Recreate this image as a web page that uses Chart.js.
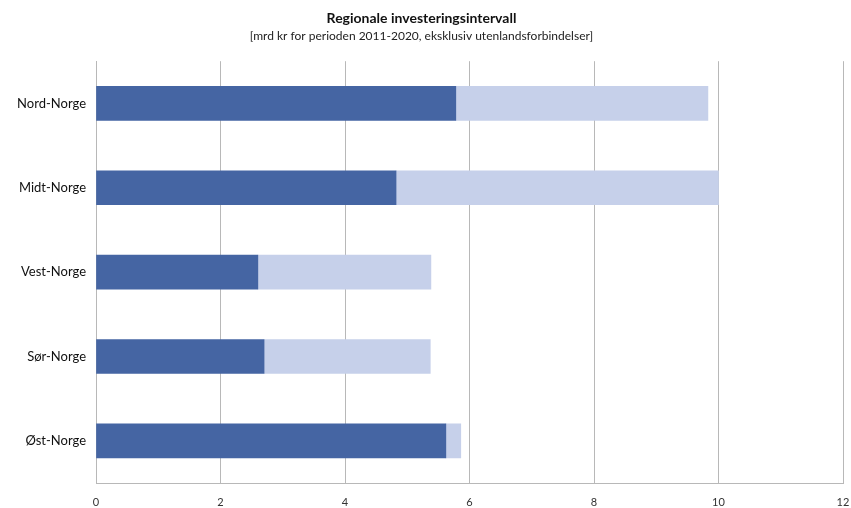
<!DOCTYPE html>
<html lang="no">
<head>
  <meta charset="UTF-8" />
  <title>Regionale investeringsintervall</title>
  <script src="https://cdn.jsdelivr.net/npm/chart.js"></script>
  <style>
    html, body { margin: 0; padding: 0; background: #fff; }
    #wrap { width: 851px; height: 508px; }
  </style>
</head>
<body>
  <div id="wrap"><canvas id="intervallChart" width="851" height="508"></canvas></div>

  <script>
    // Regioner og investeringsintervall (mrd kr, 2011-2020)
    const regioner = ["Nord-Norge", "Midt-Norge", "Vest-Norge", "Sør-Norge", "Øst-Norge"];
    const lavt = [5.78, 4.82, 2.6, 2.7, 5.62];
    const hoyt = [9.83, 10.0, 5.38, 5.37, 5.86];
    const xTicks = [0, 2, 4, 6, 8, 10, 12];

    const font = "Lato, 'Open Sans', sans-serif";
    const ctx = document.getElementById("intervallChart").getContext("2d");

    new Chart(ctx, {
      type: "bar",
      data: {
        labels: regioner,
        datasets: [
          {
            label: "Lavt anslag",
            data: lavt,
            backgroundColor: "#4565a3",
            barThickness: 34,
            grouped: false,
            order: 1
          },
          {
            // intervallet fra lavt til høyt anslag
            label: "Høyt anslag",
            data: lavt.map((v, i) => [v, hoyt[i]]),
            backgroundColor: "#c6d0ea",
            barThickness: 34,
            grouped: false,
            order: 2
          }
        ]
      },
      options: {
        indexAxis: "y",
        responsive: false,
        animation: false,
        layout: { padding: { top: 6, left: 0, right: 8, bottom: 0 } },
        plugins: {
          legend: { display: false },
          tooltip: { enabled: false },
          title: {
            display: true,
            text: "Regionale investeringsintervall",
            color: "#111",
            font: { family: font, size: 14, weight: "bold" },
            padding: { top: 4, bottom: 2 }
          },
          subtitle: {
            display: true,
            text: "[mrd kr for perioden 2011-2020, eksklusiv utenlandsforbindelser]",
            color: "#222",
            font: { family: font, size: 12 },
            padding: { top: 0, bottom: 18 }
          }
        },
        scales: {
          x: {
            min: 0,
            max: 12,
            afterBuildTicks: s => { s.ticks = xTicks.map(v => ({ value: v })); },
            afterFit: s => {
              s.height = 25;
              s.paddingLeft = 0;
              s.paddingRight = 0;
            },
            ticks: {
              color: "#333",
              font: { family: font, size: 11 },
              padding: 13
            },
            grid: { color: "#b8b8b8", lineWidth: 1, drawTicks: false },
            border: { color: "#b8b8b8" }
          },
          y: {
            afterFit: s => { s.width = 96; },
            ticks: {
              color: "#111",
              font: { family: font, size: 13 },
              padding: 10
            },
            grid: { display: false, drawTicks: false },
            border: { color: "#b8b8b8" }
          }
        }
      }
    });
  </script>
</body>
</html>
